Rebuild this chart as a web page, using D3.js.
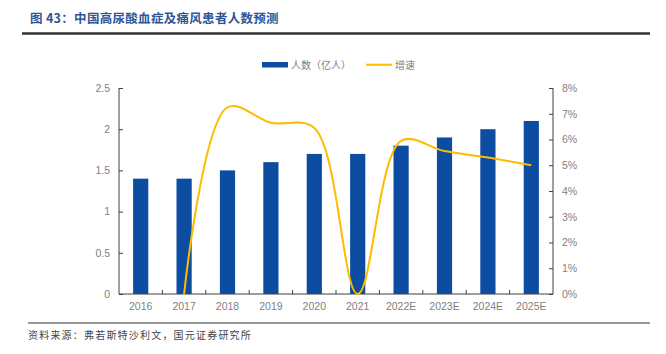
<!DOCTYPE html>
<html>

<head>
  <meta charset="utf8">
  <script src="https://d3js.org/d3.v7.min.js"></script>
  <style>
    body { margin: 0; background: #fff; }
    .axis text { fill: #7f7f7f; font-family: "Liberation Sans", Arial, sans-serif; font-size: 10.5px; }
    .axis path, .axis line { stroke: #404040; }
  </style>
</head>

<body>
  <svg id="chart" width="666" height="354"></svg>
  <script>
    var years = ['2016', '2017', '2018', '2019', '2020', '2021', '2022E', '2023E', '2024E', '2025E'];
    var patients = [1.4, 1.4, 1.5, 1.6, 1.7, 1.7, 1.8, 1.9, 2.0, 2.1];
    var growth = [null, 0, 7.25, 6.65, 6.45, 0, 5.95, 5.55, 5.3, 5.0];
    var leftTicks = [0, 0.5, 1, 1.5, 2, 2.5];
    var rightTicks = [0, 1, 2, 3, 4, 5, 6, 7, 8];

    var chart = d3.select('#chart');
    var margin = { top: 88, right: 113, bottom: 60, left: 119 };
    var width = 666 - margin.left - margin.right;
    var height = 354 - margin.top - margin.bottom;
    var blue = '#0c4da2';
    var orange = '#ffbb00';

    // title
    chart.append('text')
      .attr('x', 30).attr('y', 23)
      .attr('fill', '#2f5597')
      .style('font-family', '"Noto Sans CJK SC", sans-serif')
      .style('font-size', '12.5px').style('font-weight', 'bold')
      .style('letter-spacing', '0.3px')
      .text('图 43：中国高尿酸血症及痛风患者人数预测');
    chart.append('line')
      .attr('x1', 22).attr('x2', 650).attr('y1', 33.5).attr('y2', 33.5)
      .attr('stroke', '#333').attr('stroke-width', 2.5);

    // source
    chart.append('line')
      .attr('x1', 28).attr('x2', 650).attr('y1', 323).attr('y2', 323)
      .attr('stroke', '#333').attr('stroke-width', 1.2);
    chart.append('text')
      .attr('x', 28).attr('y', 339)
      .attr('fill', '#444')
      .style('font-family', '"Noto Sans CJK SC", sans-serif')
      .style('font-size', '10px')
      .style('letter-spacing', '1.2px')
      .text('资料来源：弗若斯特沙利文，国元证券研究所');

    var g = chart.append('g')
      .attr('transform', 'translate(' + margin.left + ',' + margin.top + ')');

    var x = d3.scaleBand().domain(years).range([0, width]).paddingInner(0.65).paddingOuter(0.325);
    var xTicks = d3.scaleLinear().domain([0, years.length]).range([0, width]);
    var y = d3.scaleLinear().domain([0, 2.5]).range([height, 0]);
    var y2 = d3.scaleLinear().domain([0, 8]).range([height, 0]);

    // bars
    g.selectAll('.bar')
      .data(patients)
      .enter()
      .append('rect')
      .attr('class', 'bar')
      .attr('x', (d, i) => x(years[i]))
      .attr('y', (d) => y(d))
      .attr('width', x.bandwidth())
      .attr('height', (d) => height - y(d))
      .attr('fill', blue);

    // axes
    g.append('g')
      .attr('class', 'axis')
      .call(d3.axisLeft(y).tickValues(leftTicks).tickFormat(d3.format('')).tickSize(-4).tickPadding(9))
      .call((s) => s.select('.domain').attr('d', 'M0,0V' + height));

    g.append('g')
      .attr('class', 'axis')
      .attr('transform', 'translate(' + width + ',0)')
      .call(d3.axisRight(y2).tickValues(rightTicks).tickFormat((d) => d + '%').tickSize(-4).tickPadding(9))
      .call((s) => s.select('.domain').attr('d', 'M0,0V' + height));

    var xAxis = g.append('g')
      .attr('class', 'axis')
      .attr('transform', 'translate(0,' + height + ')');
    xAxis.append('line').attr('x1', 0).attr('x2', width).attr('stroke', '#404040');
    xAxis.selectAll('.tk')
      .data(d3.range(1, years.length))
      .enter()
      .append('line')
      .attr('x1', (d) => xTicks(d)).attr('x2', (d) => xTicks(d))
      .attr('y1', 0).attr('y2', -4)
      .attr('stroke', '#404040');
    xAxis.selectAll('.lbl')
      .data(years)
      .enter()
      .append('text')
      .attr('x', (d) => x(d) + x.bandwidth() / 2)
      .attr('y', 16)
      .attr('text-anchor', 'middle')
      .text((d) => d);

    // growth line
    var line = d3.line()
      .defined((d) => d !== null)
      .x((d, i) => x(years[i]) + x.bandwidth() / 2)
      .y((d) => y2(d))
      .curve(d3.curveCatmullRom.alpha(0.5));

    g.append('path')
      .datum(growth)
      .attr('fill', 'none')
      .attr('stroke', orange)
      .attr('stroke-width', 2)
      .attr('d', line);

    // legend
    var legend = chart.append('g')
      .style('font-family', '"Noto Sans CJK SC", sans-serif')
      .style('font-size', '10px');
    legend.append('rect')
      .attr('x', 262).attr('y', 62).attr('width', 26).attr('height', 5.5)
      .attr('fill', blue);
    legend.append('text')
      .attr('x', 291).attr('y', 68.5).attr('fill', '#7f7f7f')
      .text('人数（亿人）');
    legend.append('line')
      .attr('x1', 366).attr('x2', 392).attr('y1', 64.7).attr('y2', 64.7)
      .attr('stroke', orange).attr('stroke-width', 2);
    legend.append('text')
      .attr('x', 395).attr('y', 68.5).attr('fill', '#7f7f7f')
      .text('增速');
  </script>
</body>

</html>
